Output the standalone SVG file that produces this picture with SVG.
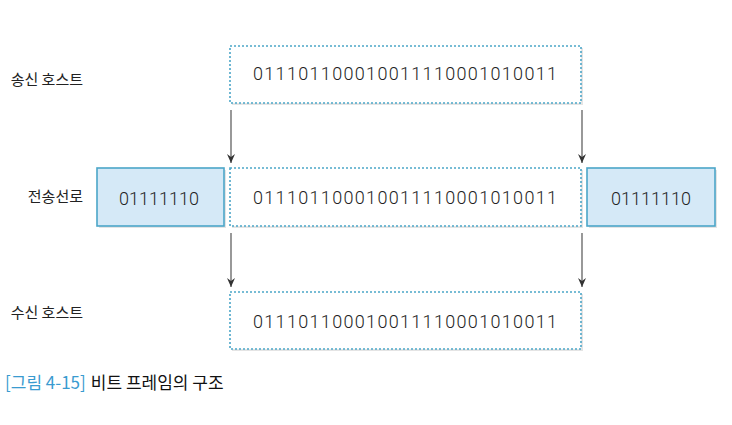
<svg xmlns="http://www.w3.org/2000/svg" width="732" height="425" viewBox="0 0 732 425">
<style>
.lbl{font-family:"Noto Sans CJK KR","Noto Sans",sans-serif;font-size:15px;fill:#222;text-anchor:end}
.bits{font-family:Roboto,"Liberation Sans",sans-serif;font-weight:300;font-size:18px;fill:#222;text-anchor:middle}
.dot{fill:#fff;stroke:#4ba6c8;stroke-width:1.6;stroke-dasharray:2 2}
.flag{fill:#d5e9f7;stroke:#4ba6c8;stroke-width:1.6}
.sh{fill:#e4e4e4}
.cap{font-family:"Noto Sans CJK KR","Noto Sans",sans-serif;font-size:17px}
</style>
<defs>
<marker id="ah" markerWidth="10" markerHeight="8" refX="9" refY="4" orient="auto" markerUnits="userSpaceOnUse" viewBox="0 0 10 8">
<path d="M0,0 L9,4 L0,8 L3,4 Z" fill="#333"/>
</marker>
</defs>
<rect width="732" height="425" fill="#fff"/>
<g id="sender">
<rect class="sh" x="232" y="48" width="351" height="57"/>
<rect class="dot" x="230" y="46" width="351" height="57"/>
<text class="bits" x="405" y="80" textLength="304" lengthAdjust="spacing">011101100010011110001010011</text>
</g>
<g id="flag-left">
<rect class="sh" x="99" y="170" width="127" height="58"/>
<rect class="flag" x="97" y="168" width="127" height="58"/>
<text class="bits" x="159" y="204.5" textLength="80" lengthAdjust="spacing">01111110</text>
</g>
<g id="line-data">
<rect class="sh" x="232" y="170" width="351" height="58"/>
<rect class="dot" x="230" y="168" width="351" height="58"/>
<text class="bits" x="405" y="204" textLength="304" lengthAdjust="spacing">011101100010011110001010011</text>
</g>
<g id="flag-right">
<rect class="sh" x="589" y="170" width="128" height="58"/>
<rect class="flag" x="587" y="168" width="128" height="58"/>
<text class="bits" x="651" y="204.5" textLength="80" lengthAdjust="spacing">01111110</text>
</g>
<g id="receiver">
<rect class="sh" x="232" y="294" width="351" height="57"/>
<rect class="dot" x="230" y="292" width="351" height="57"/>
<text class="bits" x="405" y="328" textLength="304" lengthAdjust="spacing">011101100010011110001010011</text>
</g>
<g id="labels">
<text class="lbl" x="83" y="85">송신 호스트</text>
<text class="lbl" x="83" y="202">전송선로</text>
<text class="lbl" x="83" y="318">수신 호스트</text>
</g>
<g id="connectors" stroke="#444" stroke-width="1.1" fill="none">
<line x1="231" y1="110" x2="231" y2="163" marker-end="url(#ah)"/>
<line x1="582" y1="110" x2="582" y2="163" marker-end="url(#ah)"/>
<line x1="231" y1="233" x2="231" y2="287" marker-end="url(#ah)"/>
<line x1="582" y1="233" x2="582" y2="287" marker-end="url(#ah)"/>
</g>
<g id="caption">
<text class="cap" x="5" y="389"><tspan fill="#3a9bd0">[그림 4-15]</tspan><tspan fill="#111" dx="5">비트 프레임의 구조</tspan></text>
</g>
</svg>
